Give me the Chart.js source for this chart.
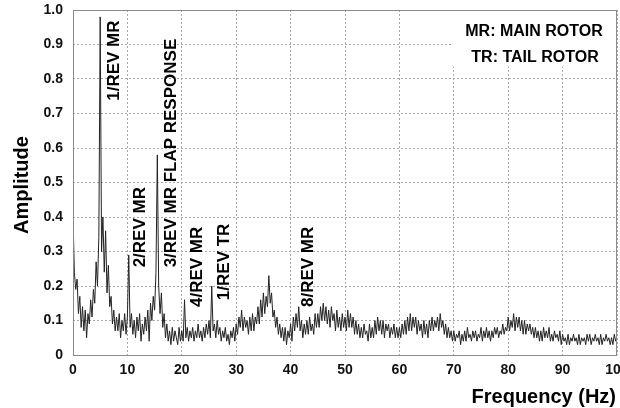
<!DOCTYPE html>
<html>
<head>
<meta charset="utf-8">
<script src="https://cdn.jsdelivr.net/npm/chart.js@4.4.1/dist/chart.umd.min.js"></script>
<style>
  html, body { margin: 0; padding: 0; background: #fff; }
</style>
</head>
<body>
<canvas id="chart" width="620" height="408"></canvas>
<script>
// spectrum amplitude, one value every 0.25 Hz
var ampA = [ // 0 - 24.75 Hz
  .40,.24,.19,.22, .12,.17,.08,.14, .07,.13,.05,.12, .09,.16,.11,.19, .15,.27,.20,.34,
  .98,.30,.40,.24, .36,.18,.26,.14, .17,.09,.13,.07, .11,.07,.12,.05, .10,.07,.12,.06,
  .11,.29,.08,.12, .06,.10,.05,.11, .07,.12,.04,.09, .06,.11,.07,.13, .04,.15,.10,.17,
  .13,.24,.58,.20, .12,.18,.08,.12, .05,.09,.04,.07, .03,.08,.04,.07, .05,.03,.08,.04,
  .07,.04,.16,.05, .08,.04,.07,.05, .08,.04,.07,.05, .09,.05,.07,.04, .08,.05,.09,.06
];
var ampB = [ // 25 - 49.75 Hz
  .10,.05,.20,.07, .09,.05,.10,.06, .08,.04,.07,.05, .08,.04,.06,.03, .07,.05,.08,.04,
  .09,.06,.11,.08, .13,.07,.11,.08, .10,.06,.11,.07, .12,.07,.11,.09, .14,.09,.16,.11,
  .18,.12,.17,.14, .23,.15,.18,.11, .13,.08,.11,.06, .09,.05,.08,.04, .08,.03,.07,.05,
  .09,.04,.11,.07, .12,.08,.14,.07, .10,.05,.09,.06, .10,.06,.11,.07, .09,.06,.12,.08,
  .12,.08,.14,.10, .15,.10,.14,.09, .13,.08,.14,.10, .12,.07,.13,.08, .11,.07,.12,.08
];
var ampC = [ // 50 - 74.75 Hz
  .11,.07,.13,.08, .12,.08,.11,.06, .10,.06,.09,.05, .08,.05,.09,.06, .07,.04,.09,.05,
  .08,.05,.10,.06, .11,.07,.10,.06, .10,.05,.09,.07, .09,.05,.08,.06, .09,.05,.08,.05,
  .08,.05,.09,.06, .10,.06,.11,.07, .12,.07,.11,.08, .11,.06,.10,.07, .09,.05,.10,.06,
  .09,.05,.10,.07, .11,.07,.10,.08, .11,.07,.12,.08, .10,.06,.09,.05, .08,.05,.07,.04,
  .07,.04,.06,.05, .07,.03,.06,.04, .07,.04,.08,.05, .06,.04,.07,.05, .07,.04,.06,.05
];
var ampD = [ // 75 - 100 Hz
  .08,.04,.07,.05, .08,.05,.07,.04, .07,.05,.08,.06, .08,.05,.07,.06, .09,.06,.08,.07,
  .11,.07,.10,.08, .12,.07,.11,.08, .11,.07,.10,.06, .10,.06,.09,.07, .09,.06,.08,.05,
  .08,.05,.07,.04, .07,.04,.08,.05, .07,.05,.08,.04, .06,.04,.07,.05, .06,.04,.07,.03,
  .06,.04,.05,.03, .06,.03,.05,.04, .06,.04,.05,.03, .06,.03,.05,.04, .05,.03,.06,.04,
  .06,.03,.05,.04, .06,.04,.05,.03, .06,.03,.05,.04, .06,.04,.05,.03, .05,.03,.06,.04,
  .05
];
var freqStep = 0.25;

// peak annotations: text, frequency of text centre, amplitude where text starts
var peakText = ['1/REV MR', '2/REV MR', '3/REV MR FLAP RESPONSE', '4/REV MR', '1/REV TR', '8/REV MR'];
var peakFreq = [7.6, 12.4, 18.0, 22.8, 27.8, 43.2];
var peakAmp  = [0.737, 0.254, 0.254, 0.139, 0.159, 0.139];

var legendLines = ['MR: MAIN ROTOR', 'TR: TAIL ROTOR'];

var amp = ampA.concat(ampB, ampC, ampD);
var points = amp.map(function(a, i) { return { x: i * freqStep, y: a }; });

var FONT = '"Liberation Sans", Arial, Helvetica, sans-serif';
Chart.defaults.font.family = FONT;

var decorations = {
  id: 'decorations',
  afterDraw: function(chart) {
    var ctx = chart.ctx, a = chart.chartArea;
    var xs = chart.scales.x, ys = chart.scales.y;
    ctx.save();
    // frame
    ctx.strokeStyle = '#8a8a8a';
    ctx.lineWidth = 1;
    ctx.strokeRect(Math.round(a.left) + 0.5, Math.round(a.top) + 0.5,
                   Math.round(a.right - a.left) - 1, Math.round(a.bottom - a.top));

    // peak labels
    ctx.fillStyle = '#000';
    ctx.font = 'bold 17px ' + FONT;
    ctx.textAlign = 'left';
    ctx.textBaseline = 'middle';
    for (var i = 0; i < peakText.length; i++) {
      ctx.save();
      ctx.translate(xs.getPixelForValue(peakFreq[i]), ys.getPixelForValue(peakAmp[i]));
      ctx.rotate(-Math.PI / 2);
      ctx.fillText(peakText[i], 0, 0);
      ctx.restore();
    }

    // legend box
    ctx.fillStyle = '#fff';
    ctx.fillRect(453, a.top + 1, a.right - 454, 56);
    ctx.fillStyle = '#000';
    ctx.font = 'bold 16px ' + FONT;
    ctx.textAlign = 'center';
    ctx.fillText(legendLines[0], 534, 32);
    ctx.fillText(legendLines[1], 535, 58);

    // axis titles
    ctx.font = 'bold 20px ' + FONT;
    ctx.textAlign = 'right';
    ctx.fillText('Frequency (Hz)', 616, 397);
    ctx.save();
    ctx.translate(22, 185);
    ctx.rotate(-Math.PI / 2);
    ctx.textAlign = 'center';
    ctx.fillText('Amplitude', 0, 0);
    ctx.restore();
    ctx.restore();
  }
};

new Chart(document.getElementById('chart'), {
  type: 'line',
  data: {
    datasets: [{
      data: points,
      borderColor: '#222',
      borderWidth: 1,
      pointRadius: 0,
      tension: 0,
      fill: false
    }]
  },
  options: {
    responsive: false,
    animation: false,
    events: [],
    layout: { padding: { top: 10, right: 3, left: 0, bottom: 0 } },
    plugins: { legend: { display: false }, tooltip: { enabled: false } },
    scales: {
      x: {
        type: 'linear',
        min: 0, max: 100,
        afterFit: function(s) { s.height = 53; s.paddingLeft = 0; s.paddingRight = 0; },
        ticks: {
          stepSize: 10,
          padding: 7,
          color: '#111',
          font: { size: 14, weight: 'bold' },
          maxRotation: 0
        },
        grid: { color: '#a8a8a8', lineWidth: 1, drawTicks: false },
        border: { display: false, dash: [2, 2] }
      },
      y: {
        min: 0, max: 1,
        afterFit: function(s) { s.width = 73; s.paddingTop = 0; s.paddingBottom = 0; },
        ticks: {
          stepSize: 0.1,
          padding: 10,
          color: '#111',
          font: { size: 14, weight: 'bold' },
          callback: function(v) { return v === 0 ? '0' : v.toFixed(1); }
        },
        grid: { color: '#a8a8a8', lineWidth: 1, drawTicks: false },
        border: { display: false, dash: [2, 2] }
      }
    }
  },
  plugins: [decorations]
});
</script>
</body>
</html>
